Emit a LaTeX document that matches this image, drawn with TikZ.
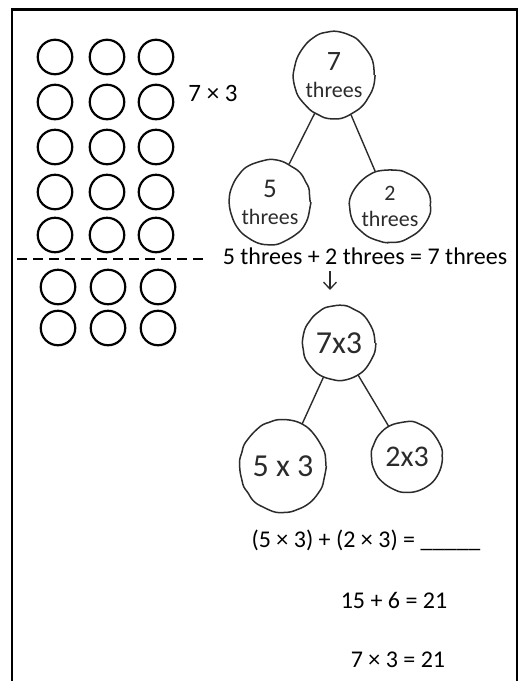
\documentclass[tikz,border=0pt]{standalone}
\usepackage{fontspec}
\setmainfont{Carlito}
\usetikzlibrary{shapes.geometric,arrows.meta,decorations.pathmorphing}
\definecolor{pen}{HTML}{2B2B2B}
\begin{document}
\begin{tikzpicture}[x=1pt,y=-1pt,
  dot/.style={draw, circle, line width=2.2pt, minimum size=34.5pt, inner sep=0pt},
  hand/.style={draw=pen, ellipse, line width=1.5pt, inner sep=0pt, align=center, text=pen,
     font=\fontsize{22}{24}\selectfont,
     decorate, decoration={random steps, segment length=7pt, amplitude=0.7pt}, rounded corners=3pt},
  big/.style={font=\fontsize{32}{30}\selectfont},
  link/.style={draw=pen, line width=1.4pt},
  typed/.style={font=\fontsize{24}{28}\selectfont, inner sep=0pt, anchor=center}]
\pgfmathsetseed{7}
\useasboundingbox (0,0) rectangle (519,681);
% frame
\draw[line width=2.8pt] (12,681) -- (12,9.5) -- (517,9.5) -- (517,681);
% dot array
\foreach \r/\y in {1/57,2/102,3/147,4/192,5/235}{
  \foreach \c/\x in {1/55,2/107,3/156}{
    \node[dot] (c\r\c) at (\x,\y) {};
  }
}
\foreach \r/\y in {6/287,7/328}{
  \foreach \c/\x in {1/58,2/108,3/158}{
    \node[dot] (c\r\c) at (\x,\y) {};
  }
}
\coordinate (dl) at (17,259);
\coordinate (dr) at (208,259);
\draw[line width=2pt, dash pattern=on 10pt off 6pt] (dl) -- (dr);
\node[typed, font=\fontsize{25}{28}\selectfont] (m73) at (213,93) {7 × 3};
% first tree
\node[hand, minimum width=74pt, minimum height=86pt] (t7) at (334,75) {{\fontsize{28}{28}\selectfont 7}\\[3pt]threes};
\node[hand, minimum width=76pt, minimum height=84pt] (t5) at (270,202) {{\fontsize{27}{27}\selectfont 5}\\[3pt]threes};
\node[hand, minimum width=66pt, minimum height=72pt] (t2) at (390,206) {{\fontsize{22}{22}\selectfont 2}\\[2pt]threes};
\draw[link] (t7) -- (t5);
\draw[link] (t7) -- (t2);
\node[typed] (eq1) at (365,256) {5 threes + 2 threes = 7 threes};
\coordinate (arS) at (330,271);
\coordinate (arE) at (330,290);
\draw[link, line width=1.3pt, -{Straight Barb[length=7pt,width=13pt]}] (arS) -- (arE);
% second tree
\node[hand, big, minimum width=72pt, minimum height=74pt] (s73) at (339,343) {7x3};
\node[hand, big, minimum width=84pt, minimum height=92pt] (s53) at (283,466) {5 x 3};
\node[hand, minimum width=70pt, minimum height=70pt, font=\fontsize{30}{28}\selectfont] (s23) at (407,457) {2x3};
\draw[link] (s73) -- (s53);
\draw[link] (s73) -- (s23);
% equations
\node[typed] (eq2) at (366,540) {(5 × 3) + (2 × 3) = \_\_\_\_\_};
\node[typed] (eq3) at (394,600) {15 + 6 = 21};
\node[typed] (eq4) at (398,660) {7 × 3 = 21};
\end{tikzpicture}
\end{document}
